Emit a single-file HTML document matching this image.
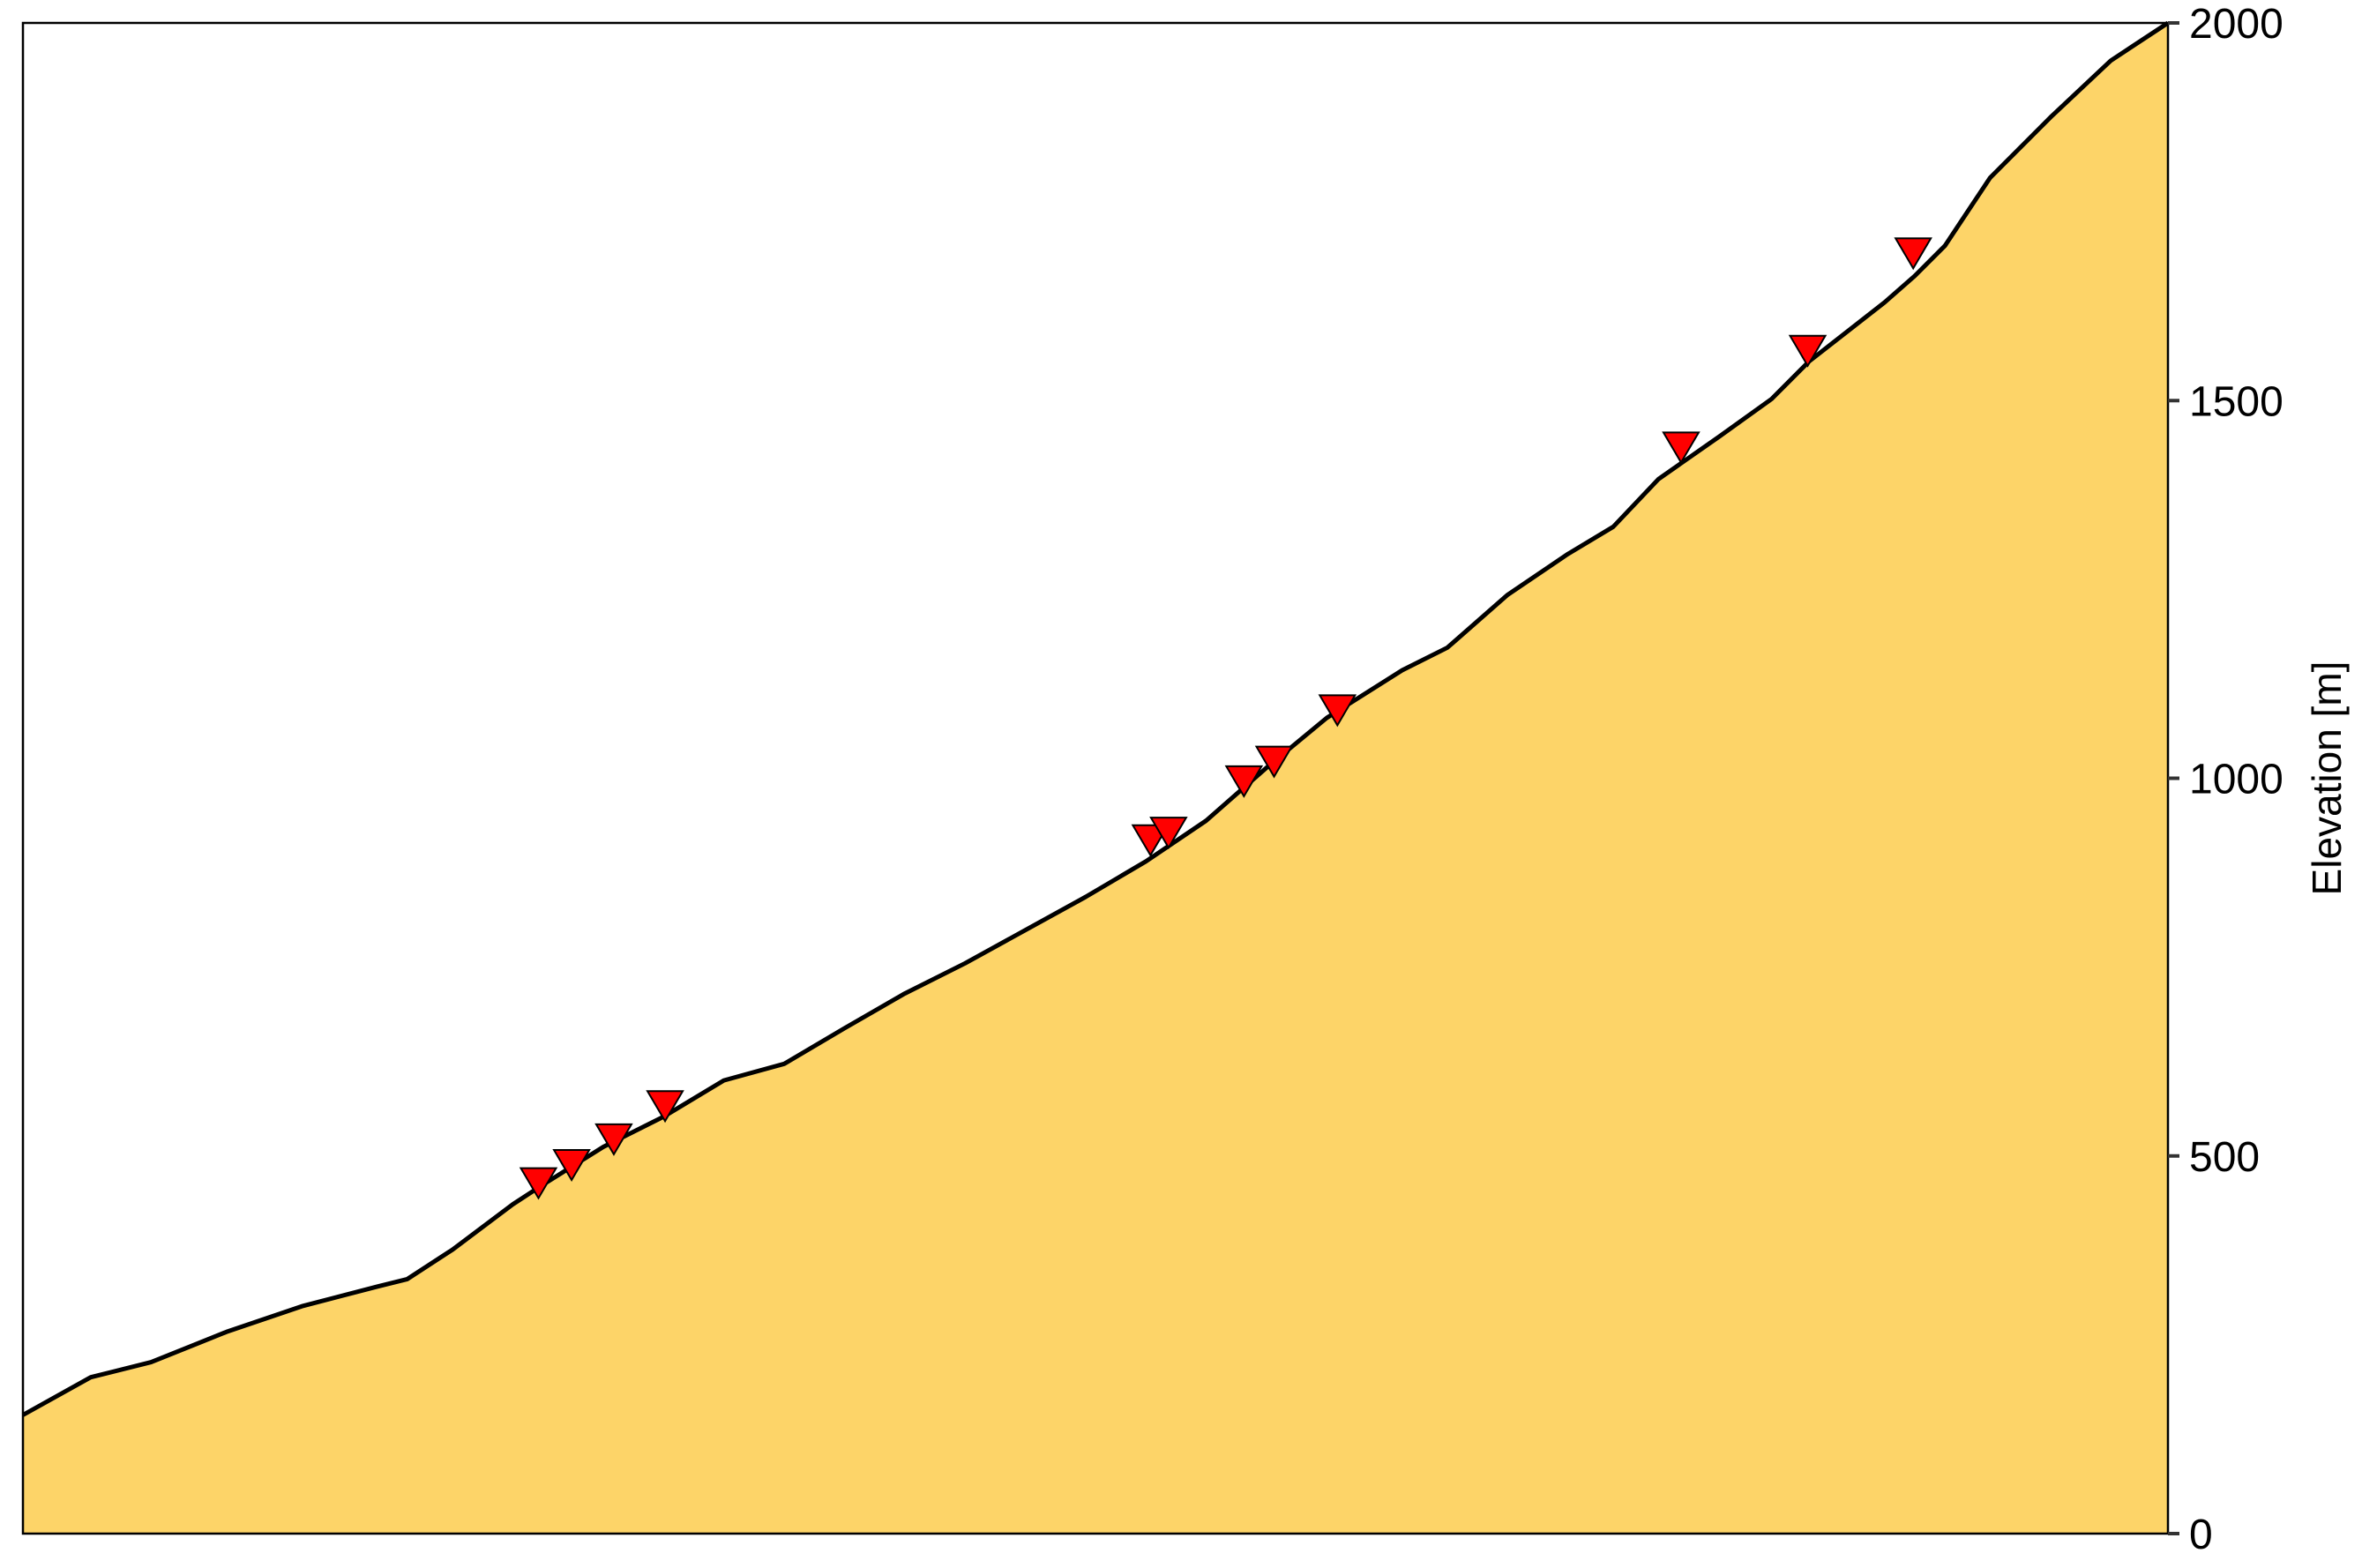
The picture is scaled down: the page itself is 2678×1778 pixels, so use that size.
<!DOCTYPE html>
<html><head><meta charset="utf-8"><style>
html,body{margin:0;padding:0;background:#fff;}
svg{display:block;font-family:"Liberation Sans",sans-serif;}
</style></head><body>
<svg id="chart" width="2678" height="1778" viewBox="0 0 2678 1778">
<g id="plot"></g>
</svg>
<script>
const dist=[0,45,85,135,185,235,255,285,325,345,385,425,465,505,545,585,625,665,705,745,785,825,865,915,945,985,1025,1055,1085,1125,1160,1185,1235,1255,1275,1305,1345,1385,1423];
const elev=[157,207,227,267,301,327,337,376,436,462,512,552,600,622,669,715,755,799,843,890,944,1014,1080,1143,1173,1243,1297,1333,1396,1452,1502,1552,1630,1665,1705,1795,1875,1950,2000];
const markerDist=[342,364,392,426,748,760,810,830,872,1100,1184,1254];
const markerElev=[464,488,522,566,918,928,996,1022,1090,1438,1566,1695];
const yTicks=[0,500,1000,1500,2000];
const yTickLabels=["0","500","1000","1500","2000"];
const L=26,R=2458,T=26,B=1739,XMAX=1423,YMAX=2000;
const xs=d=>L+d/XMAX*(R-L);
const ys=v=>B-v/YMAX*(B-T);
const NS="http://www.w3.org/2000/svg";
const svg=document.getElementById('chart');
function mk(t,a){const e=document.createElementNS(NS,t);for(const k in a)e.setAttribute(k,a[k]);return e;}
let pts=dist.map((d,i)=>xs(d).toFixed(1)+','+ys(elev[i]).toFixed(1));
const area=mk('polygon',{points:pts.join(' ')+' '+xs(XMAX)+','+B+' '+xs(0)+','+B,fill:'#fdd468'});


svg.appendChild(area);
const line=mk('polyline',{points:pts.join(' '),fill:'none',stroke:'#000','stroke-width':5,'stroke-linejoin':'round'});


svg.appendChild(line);
markerDist.forEach((d,i)=>{const cx=xs(d),cy=ys(markerElev[i]);
const m=mk('polygon',{points:`${cx-20},${cy-17} ${cx+20},${cy-17} ${cx},${cy+17}`,fill:'#f00',stroke:'#000','stroke-width':2});


svg.appendChild(m);});
const frame=mk('rect',{x:L,y:T,width:R-L,height:B-T,fill:'none',stroke:'#000','stroke-width':2.5});


svg.appendChild(frame);
yTicks.forEach((v,i)=>{const y=ys(v);
const t=mk('line',{x1:R,x2:R+13,y1:y,y2:y,stroke:'#333','stroke-width':4});


svg.appendChild(t);
const tx=mk('text',{x:R+24,y:y+17,'font-size':48,fill:'#000'});
tx.textContent=yTickLabels[i];


svg.appendChild(tx);});
const yt=mk('text',{x:0,y:0,'font-size':46,'text-anchor':'middle',transform:`translate(2654,${(T+B)/2}) rotate(-90)`});
yt.textContent='Elevation [m]';


svg.appendChild(yt);
</script>
</body></html>
